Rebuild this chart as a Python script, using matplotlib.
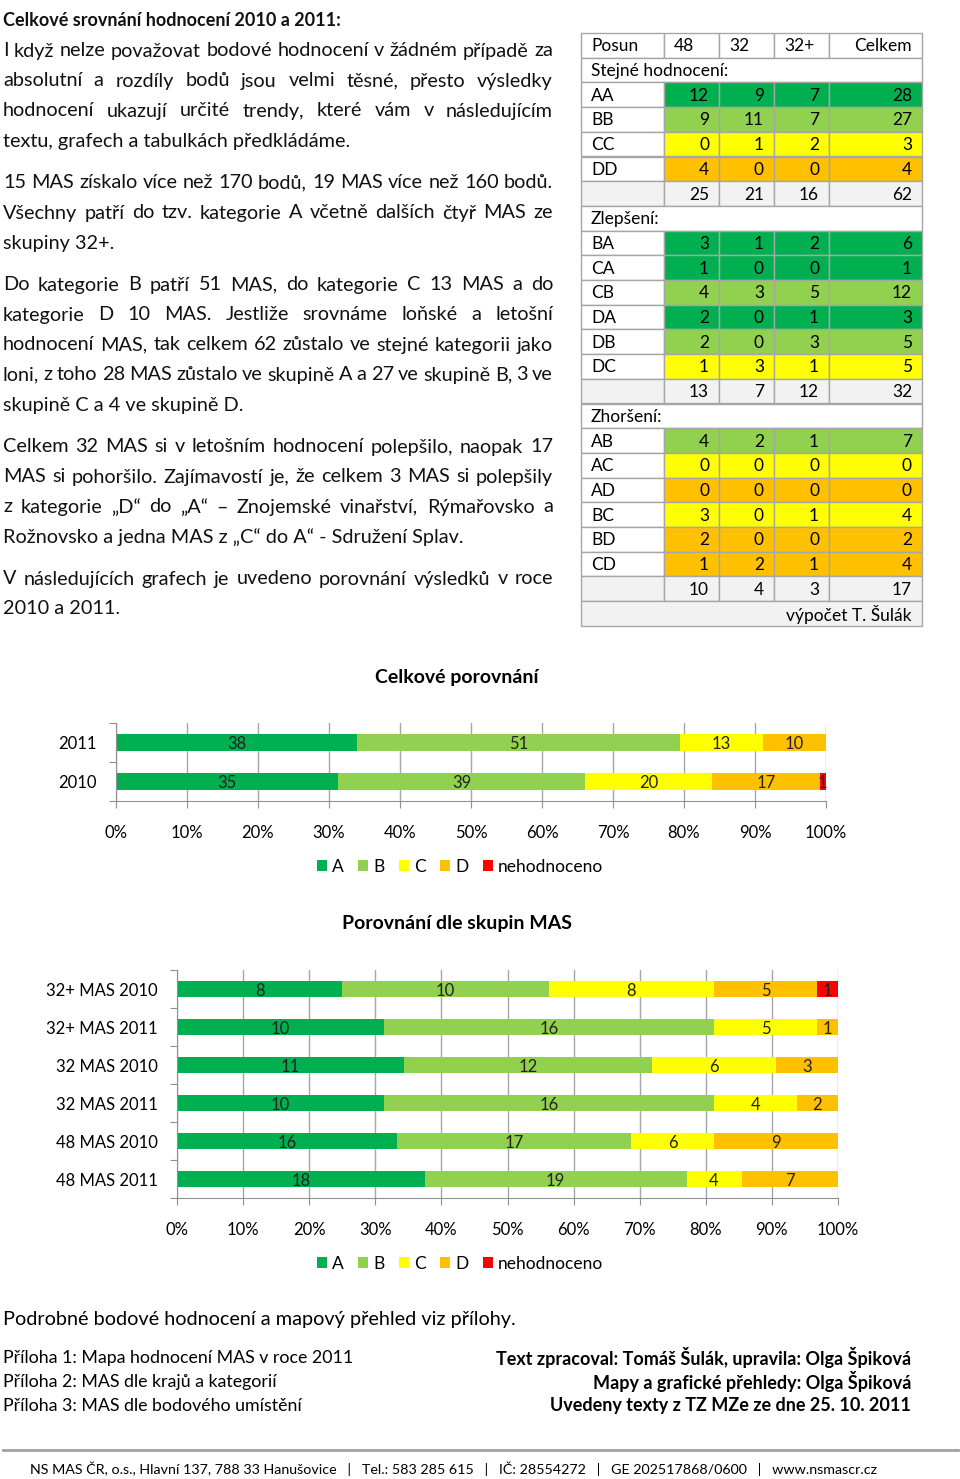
import matplotlib
matplotlib.use("Agg")
import matplotlib.pyplot as plt
from matplotlib.patches import Rectangle, Patch
import numpy as np

W, H = 960, 1479
plt.rcParams['font.family'] = ['Lato', 'DejaVu Sans']

# kategorie a barvy
cat_names = ['A', 'B', 'C', 'D', 'nehodnoceno']
cat_colors = ['#00B050', '#92D050', '#FFFF00', '#FFC000', '#FF0000']

# Celkové porovnání (zdola nahoru)
total_labels = ['2010', '2011']
total_vals = [[35, 39, 20, 17, 1],
              [38, 51, 13, 10, 0]]

# Porovnání dle skupin MAS (zdola nahoru)
group_labels = ['48 MAS 2011', '48 MAS 2010', '32 MAS 2011', '32 MAS 2010',
                '32+ MAS 2011', '32+ MAS 2010']
group_vals = [[18, 19, 4, 7, 0],
              [16, 17, 6, 9, 0],
              [10, 16, 4, 2, 0],
              [11, 12, 6, 3, 0],
              [10, 16, 5, 1, 0],
              [8, 10, 8, 5, 1]]

# tabulka posunu
tab_head = ['Posun', '48', '32', '32+', 'Celkem']
same_rows = ['AA', 'BB', 'CC', 'DD']
same_vals = [[12, 9, 7, 28], [9, 11, 7, 27], [0, 1, 2, 3], [4, 0, 0, 4]]
same_sum = [25, 21, 16, 62]
better_rows = ['BA', 'CA', 'CB', 'DA', 'DB', 'DC']
better_vals = [[3, 1, 2, 6], [1, 0, 0, 1], [4, 3, 5, 12], [2, 0, 1, 3], [2, 0, 3, 5], [1, 3, 1, 5]]
better_sum = [13, 7, 12, 32]
worse_rows = ['AB', 'AC', 'AD', 'BC', 'BD', 'CD']
worse_vals = [[4, 2, 1, 7], [0, 0, 0, 0], [0, 0, 0, 0], [3, 0, 1, 4], [2, 0, 0, 2], [1, 2, 1, 4]]
worse_sum = [10, 4, 3, 17]

body = [
    ("I když nelze považovat bodové hodnocení v žádném případě za", 51, True),
    ("absolutní a rozdíly bodů jsou velmi těsné, přesto výsledky", 81, True),
    ("hodnocení ukazují určité trendy, které vám v následujícím", 111, True),
    ("textu, grafech a tabulkách předkládáme.", 141, False),
    ("15 MAS získalo více než 170 bodů, 19 MAS více než 160 bodů.", 183, True),
    ("Všechny patří do tzv. kategorie A včetně dalších čtyř MAS ze", 213, True),
    ("skupiny 32+.", 243, False),
    ("Do kategorie B patří 51 MAS, do kategorie C 13 MAS a do", 285, True),
    ("kategorie D 10 MAS. Jestliže srovnáme loňské a letošní", 315, True),
    ("hodnocení MAS, tak celkem 62 zůstalo ve stejné kategorii jako", 345, True),
    ("loni, z toho 28 MAS zůstalo ve skupině A a 27 ve skupině B, 3 ve", 375, True),
    ("skupině C a 4 ve skupině D.", 405, False),
    ("Celkem 32 MAS si v letošním hodnocení polepšilo, naopak 17", 447, True),
    ("MAS si pohoršilo. Zajímavostí je, že celkem 3 MAS si polepšily", 477, True),
    ("z kategorie „D“ do „A“ – Znojemské vinařství, Rýmařovsko a", 507, True),
    ("Rožnovsko a jedna MAS z „C“ do A“ - Sdružení Splav.", 537, False),
    ("V následujících grafech je uvedeno porovnání výsledků v roce", 579, True),
    ("2010 a 2011.", 608, False),
]

fig = plt.figure(figsize=(W / 100, H / 100), dpi=100)
fig.patch.set_facecolor('white')
bg = fig.add_axes([0, 0, 1, 1])
bg.set_xlim(0, W)
bg.set_ylim(H, 0)
bg.axis('off')
renderer = fig.canvas.get_renderer()

TX0, TX1 = 3, 553
TFS = 14.3


def put_line(s, y, justify):
    if not justify:
        bg.text(TX0, y, s, va='center', ha='left', fontsize=TFS, color='#111111')
        return
    words = s.split(' ')
    ts = [bg.text(0, y, w, va='center', ha='left', fontsize=TFS, color='#111111') for w in words]
    ws = [t.get_window_extent(renderer).width for t in ts]
    gap = (TX1 - TX0 - sum(ws)) / (len(words) - 1)
    x = TX0
    for t, w in zip(ts, ws):
        t.set_x(x)
        x += w + gap


bg.text(TX0, 20, "Celkové srovnání hodnocení 2010 a 2011:", fontsize=13, fontweight='bold',
        va='center', ha='left', color='#111111')
for s, y, j in body:
    put_line(s, y, j)

# ---- tabulka ----
col_x = [581, 664, 719, 774, 829, 922]
row_top = 33
rh = 24.7
grid_c = '#A6A6A6'
sum_c = '#F2F2F2'
rows = []
rows.append(('head', tab_head))
for name, rr, vv, ss in [("Stejné hodnocení:", same_rows, same_vals, same_sum),
                         ("Zlepšení:", better_rows, better_vals, better_sum),
                         ("Zhoršení:", worse_rows, worse_vals, worse_sum)]:
    rows.append(('sect', name))
    for r, v in zip(rr, vv):
        rows.append(('data', (r, v)))
    rows.append(('sum', ss))
rows.append(('foot', "výpočet T. Šulák"))

TBS = 12.5
for i, (kind, content) in enumerate(rows):
    y0 = row_top + i * rh
    yc = y0 + rh / 2 + 1
    if kind in ('sect', 'foot'):
        fc = sum_c if kind == 'foot' else 'white'
        bg.add_patch(Rectangle((col_x[0], y0), col_x[-1] - col_x[0], rh, fc=fc, ec=grid_c, lw=1))
        if kind == 'sect':
            bg.text(591, yc, content, fontsize=TBS, va='center', ha='left')
        else:
            bg.text(912, yc, content, fontsize=TBS, va='center', ha='right')
        continue
    for c in range(5):
        x0, x1 = col_x[c], col_x[c + 1]
        fc = 'white'
        if kind == 'sum':
            fc = sum_c
        elif kind == 'data' and c > 0:
            fc = cat_colors['ABCD'.index(content[0][1])]
        bg.add_patch(Rectangle((x0, y0), x1 - x0, rh, fc=fc, ec=grid_c, lw=1))
        if kind == 'head':
            if c == 4:
                bg.text(x1 - 10, yc, content[c], fontsize=TBS, va='center', ha='right')
            else:
                bg.text(x0 + 10, yc, content[c], fontsize=TBS, va='center', ha='left')
        elif kind == 'data':
            if c == 0:
                bg.text(x0 + 10, yc, content[0], fontsize=TBS, va='center', ha='left')
            else:
                bg.text(x1 - 10, yc, str(content[1][c - 1]), fontsize=TBS, va='center', ha='right')
        elif kind == 'sum' and c > 0:
            bg.text(x1 - 10, yc, str(content[c - 1]), fontsize=TBS, va='center', ha='right')


# ---- grafy ----
def stacked(left_px, right_px, bottom_px, row_px, labels, vals, title, title_y, legend_y):
    n = len(labels)
    ax = fig.add_axes([left_px / W, 1 - bottom_px / H, (right_px - left_px) / W, n * row_px / H])
    vals = np.array(vals, float)
    pct = vals / vals.sum(axis=1, keepdims=True) * 100
    y = np.arange(n)
    left = np.zeros(n)
    for j in range(len(cat_names)):
        ax.barh(y, pct[:, j], left=left, height=0.42, color=cat_colors[j], zorder=2)
        for i in range(n):
            if vals[i, j] > 0:
                ax.text(left[i] + pct[i, j] / 2, y[i] - 0.05, str(int(vals[i, j])),
                        ha='center', va='center', fontsize=12, color='#222222', zorder=3)
        left += pct[:, j]
    ax.set_xlim(0, 100)
    ax.set_ylim(-0.5, n - 0.5)
    ax.set_xticks(np.arange(0, 101, 10))
    ax.set_xticklabels([f"{v}%" for v in range(0, 101, 10)], fontsize=12)
    ax.set_yticks(np.arange(-0.5, n, 1.0))
    ax.set_yticklabels([])
    ax.set_yticks(y, minor=True)
    ax.set_yticklabels(labels, minor=True, fontsize=12)
    ax.tick_params(axis='y', which='minor', length=0, pad=14)
    ax.tick_params(axis='y', which='major', length=5, color='#909090')
    ax.tick_params(axis='x', length=5, color='#909090', pad=12)
    ax.grid(axis='x', color='#A6A6A6', lw=1, zorder=0)
    ax.set_axisbelow(True)
    for s in ('top', 'right'):
        ax.spines[s].set_visible(False)
    for s in ('left', 'bottom'):
        ax.spines[s].set_color('#909090')
    ax.set_facecolor('none')
    bg.text(457, title_y, title, fontsize=14, fontweight='bold', ha='center', va='center')
    handles = [Patch(facecolor=c, edgecolor='none') for c in cat_colors]
    fig.legend(handles, cat_names, loc='center', bbox_to_anchor=(460 / W, 1 - legend_y / H),
               ncol=5, frameon=False, fontsize=12.5, handlelength=0.6, handleheight=0.6,
               handletextpad=0.3, columnspacing=0.8)
    return ax


stacked(116, 826, 801, 39, total_labels, total_vals, "Celkové porovnání", 678, 867)
stacked(177, 838, 1198, 38, group_labels, group_vals, "Porovnání dle skupin MAS", 923, 1264)

# ---- závěr ----
bg.text(TX0, 1320, "Podrobné bodové hodnocení a mapový přehled viz přílohy.", fontsize=TFS,
        va='center', ha='left')
left_notes = ["Příloha 1: Mapa hodnocení MAS v roce 2011", "Příloha 2: MAS dle krajů a kategorií",
              "Příloha 3: MAS dle bodového umístění"]
right_notes = ["Text zpracoval: Tomáš Šulák, upravila: Olga Špiková",
               "Mapy a grafické přehledy: Olga Špiková",
               "Uvedeny texty z TZ MZe ze dne 25. 10. 2011"]
for k, (a, b) in enumerate(zip(left_notes, right_notes)):
    yy = 1358 + 24 * k
    bg.text(TX0, yy, a, fontsize=12.8, va='center', ha='left')
    bg.text(911, yy, b, fontsize=13, fontweight='bold', va='center', ha='right')

bg.plot([3, 958], [1450, 1450], color='#A0A0A0', lw=2)
footer = "NS MAS ČR, o.s., Hlavní 137, 788 33 Hanušovice   |   Tel.: 583 285 615   |   IČ: 28554272   |   GE 202517868/0600   |   www.nsmascr.cz"
bg.text(30, 1469, footer, fontsize=10.3, va='center', ha='left',
        family=['Liberation Sans Narrow', 'Lato', 'DejaVu Sans'])

fig.savefig("out.png", dpi=100)
